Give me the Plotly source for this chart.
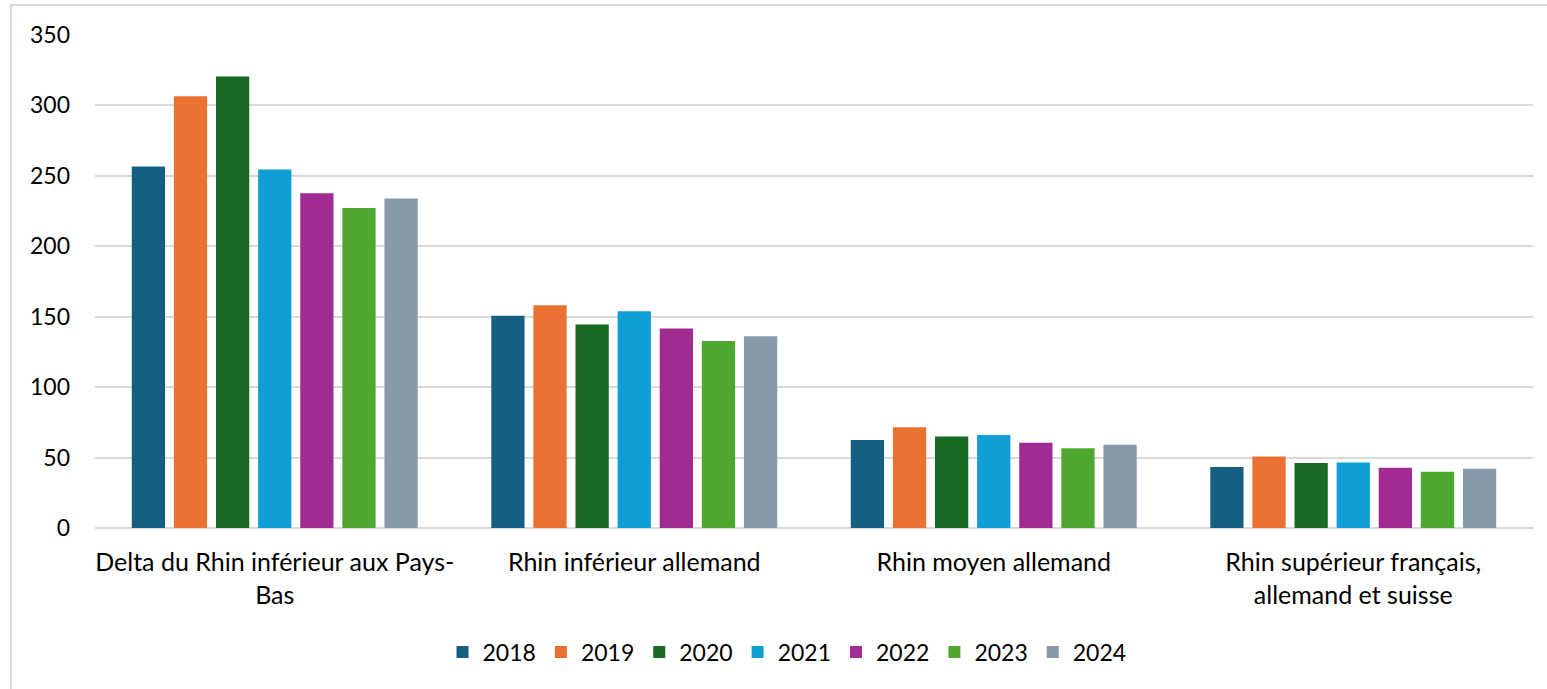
import plotly.graph_objects as go

categories = ["Delta du Rhin inférieur aux Pays-<br>Bas", "Rhin inférieur allemand",
              "Rhin moyen allemand", "Rhin supérieur français,<br>allemand et suisse"]
years = ["2018", "2019", "2020", "2021", "2022", "2023", "2024"]
v2018 = [256.7, 150.6, 62.4, 43.3]
v2019 = [306.6, 158.2, 71.6, 50.8]
v2020 = [320.6, 144.4, 65.0, 46.1]
v2021 = [254.6, 153.9, 66.0, 46.5]
v2022 = [237.6, 141.6, 60.5, 42.8]
v2023 = [227.2, 132.8, 56.7, 39.9]
v2024 = [234.0, 136.2, 59.1, 42.1]
series = [v2018, v2019, v2020, v2021, v2022, v2023, v2024]
colors = ["#156082", "#e97132", "#196b24", "#0f9ed5", "#a02b93", "#4ea72e", "#8899aa"]

W, H = 1547, 689
ml, mr, mt, mb = 95, 14, 35, 161
pw, ph = W - ml - mr, H - mt - mb

fig = go.Figure()
for y, vals, c in zip(years, series, colors):
    fig.add_trace(go.Bar(name=y, x=categories, y=vals, marker_color=c,
                         marker_line_width=0))

def px_x(x):
    return (x - ml) / pw

def px_y(y):
    return (H - mb - y) / ph

fig.update_layout(
    width=W, height=H,
    margin=dict(l=ml, r=mr, t=mt, b=mb, autoexpand=False),
    paper_bgcolor="white", plot_bgcolor="white",
    font=dict(family="Lato, 'Open Sans', sans-serif", size=23, color="#000000"),
    barmode="group", bargap=0.18, bargroupgap=0.21,
    xaxis=dict(showgrid=False, showline=False, ticks="", tickfont=dict(size=25),
               automargin=False, ticklabelstandoff=17),
    yaxis=dict(range=[0, 350], dtick=50, showgrid=True, gridcolor="#d9d9d9",
               gridwidth=2, zeroline=True, zerolinecolor="#d9d9d9", zerolinewidth=2,
               showline=False, ticks="", tickfont=dict(size=23), ticklabelstandoff=24,
               automargin=False),
    legend=dict(orientation="h", x=px_x(787), xanchor="center", y=px_y(652),
                yanchor="middle", font=dict(size=23), itemwidth=30,
                traceorder="normal"),
    shapes=[dict(type="rect", xref="paper", yref="paper",
                 x0=px_x(11), x1=px_x(1560), y0=px_y(5), y1=px_y(700),
                 line=dict(color="#d9d9d9", width=2), layer="below")],
)

fig.write_html("out.html", config={"displayModeBar": False},
               post_script="document.body.style.margin='0px';document.body.style.overflow='hidden';")
